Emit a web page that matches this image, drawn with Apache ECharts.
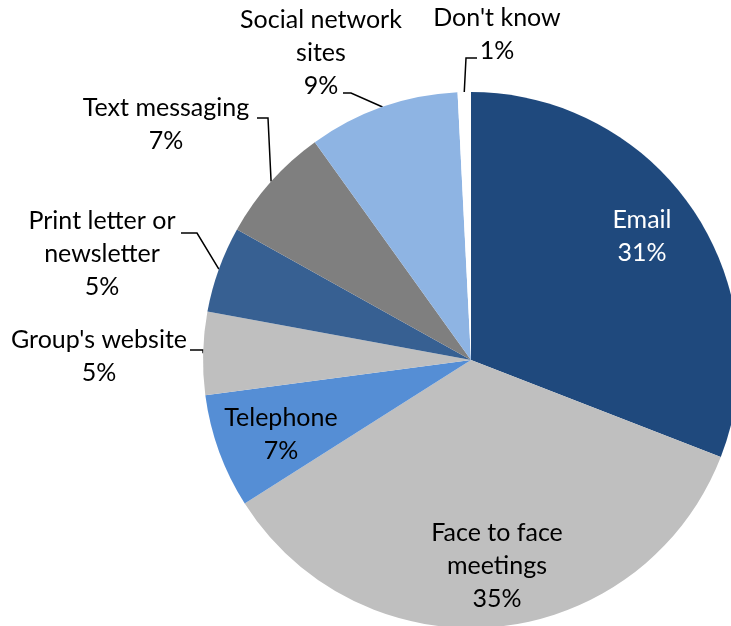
<!DOCTYPE html>
<html>
<head>
<meta charset="utf-8">
<script src="https://cdn.jsdelivr.net/npm/echarts@6/dist/echarts.min.js"></script>
<style>
  html, body { margin: 0; padding: 0; background: #fff; }
  #chart { width: 731px; height: 626px; }
</style>
</head>
<body>
<div id="chart"></div>
<script>
  // slice order: clockwise from 12 o'clock
  const categories = ['Email', 'Face to face\nmeetings', 'Telephone', "Group's website",
    'Print letter or\nnewsletter', 'Text messaging', 'Social network\nsites', "Don't know"];
  const shares = [30.9, 35.1, 6.9, 5.0, 5.2, 7.0, 9.1, 0.8];
  const colors = ['#1F497D', '#BFBFBF', '#558ED5', '#BFBFBF', '#376092', '#7F7F7F', '#8EB4E3', '#FFFFFF'];

  // where each label sits (centre of text block) and the elbow of its leader line
  const labelPos = [
    { x: 642, y: 236, inside: true },
    { x: 497, y: 566, inside: true },
    { x: 281, y: 434, inside: true },
    { x: 99, y: 356, elbow: [203, 350], end: [190, 350] },
    { x: 102, y: 254, elbow: [197, 233], end: [181, 233] },
    { x: 166, y: 124, elbow: [268, 118], end: [257, 118] },
    { x: 321, y: 53, elbow: [351, 93], end: [343, 93] },
    { x: 497, y: 34, elbow: [466, 58], end: [477, 58] }
  ];

  const font = 'Lato, "Open Sans", sans-serif';

  const data = categories.map((name, i) => ({
    name: name,
    value: shares[i],
    itemStyle: { color: colors[i] },
    label: labelPos[i].inside
      ? { position: 'inside', color: i === 0 ? '#fff' : '#000' }
      : { position: 'outside', color: '#000' },
    labelLine: { show: !labelPos[i].inside }
  }));

  let myChart = echarts.init(document.getElementById('chart'));
  myChart.setOption({
    animation: false,
    series: [{
      type: 'pie',
      center: [471, 360],
      radius: 268,
      startAngle: 90,
      clockwise: true,
      data: data,
      itemStyle: { borderWidth: 0 },
      label: {
        formatter: p => p.name + '\n' + Math.round(p.value) + '%',
        fontFamily: font,
        fontSize: 25,
        lineHeight: 33,
        align: 'center',
        overflow: 'none'
      },
      labelLine: {
        lineStyle: { color: '#000', width: 1.5 }
      },
      labelLayout: function (params) {
        const lp = labelPos[params.dataIndex];
        const out = { x: lp.x, y: lp.y, align: 'center', verticalAlign: 'middle' };
        if (!lp.inside && params.labelLinePoints) {
          out.labelLinePoints = [params.labelLinePoints[0], lp.elbow, lp.end];
        }
        return out;
      }
    }]
  });
</script>
</body>
</html>
